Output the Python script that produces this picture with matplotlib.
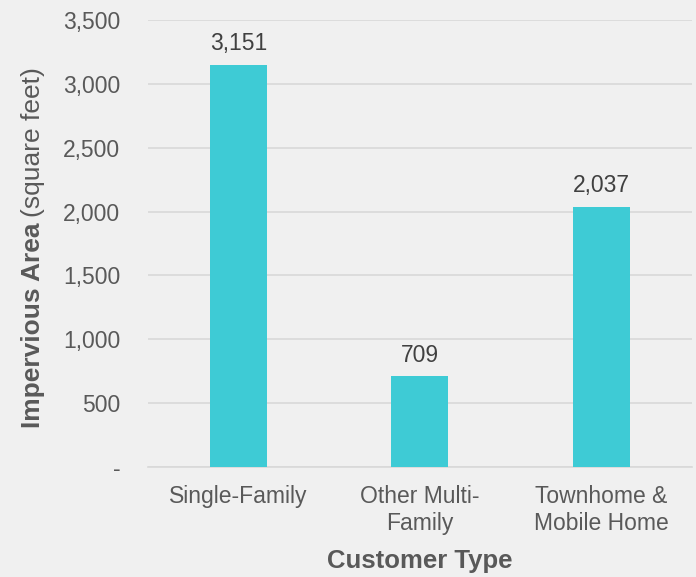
import matplotlib.pyplot as plt
from matplotlib.ticker import FuncFormatter

plt.rcParams['font.family'] = ['Liberation Sans', 'DejaVu Sans']

categories = ['Single-Family', 'Other Multi-\nFamily', 'Townhome &\nMobile Home']
values = [3151, 709, 2037]
y_ticks = [0, 500, 1000, 1500, 2000, 2500, 3000, 3500]

bg = '#f0f0f0'
text_color = '#595959'
grid_color = '#d9d9d9'
bar_color = '#3ecbd5'

fig = plt.figure(figsize=(6.96, 5.77), dpi=100, facecolor=bg)
ax = fig.add_axes([0.2126, 0.1906, 0.7814, 0.7747], facecolor=bg)

x = range(len(categories))
bars = ax.bar(x, values, width=0.314, color=bar_color, zorder=3)

for b, v in zip(bars, values):
    ax.annotate(f'{v:,}', (b.get_x() + b.get_width() / 2, v), xytext=(0, 7),
                textcoords='offset points', ha='center', va='bottom',
                fontsize=16.5, color='#404040')

ax.set_xlim(-0.5, len(categories) - 0.5)
ax.set_ylim(0, 3500)
ax.set_yticks(y_ticks)
ax.yaxis.set_major_formatter(FuncFormatter(lambda v, p: '-' if v == 0 else f'{int(v):,}'))
ax.set_xticks(list(x))
ax.set_xticklabels(categories)
ax.tick_params(axis='y', length=0, pad=20, labelsize=16.5, labelcolor=text_color)
ax.tick_params(axis='x', length=0, pad=13, labelsize=16.5, labelcolor=text_color)
ax.grid(axis='y', color=grid_color, linewidth=1.2, zorder=0)
for s in ['top', 'right', 'left']:
    ax.spines[s].set_visible(False)
ax.spines['bottom'].set_color(grid_color)
ax.spines['bottom'].set_linewidth(1.2)

ax.set_xlabel('Customer Type', fontsize=18.5, fontweight='bold', color=text_color, labelpad=10)

# y label: bold part + normal part
t1 = fig.text(33 / 696, 1 - 428 / 577, 'Impervious Area', rotation=90, ha='center', va='bottom',
              fontsize=19, fontweight='bold', color=text_color)
fig.canvas.draw()
bb = t1.get_window_extent(fig.canvas.get_renderer())
top = bb.y1 / fig.bbox.height
fig.text(33 / 696, top + 0.01, '(square feet)', rotation=90, ha='center', va='bottom',
         fontsize=19, color=text_color)

fig.savefig('out.png', facecolor=bg)
